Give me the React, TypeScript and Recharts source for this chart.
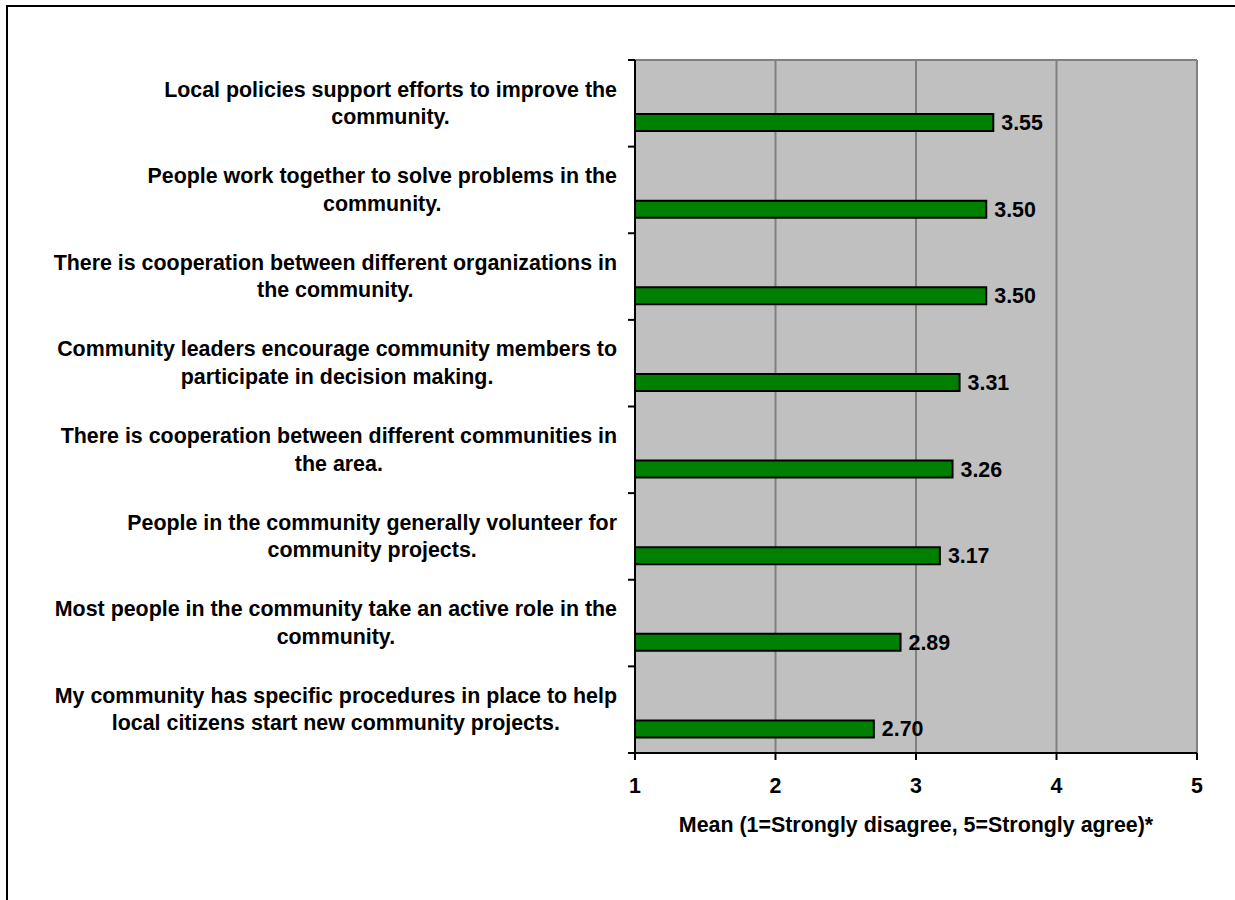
import React from "react";
import {
  BarChart,
  Bar,
  XAxis,
  YAxis,
  CartesianGrid,
  LabelList,
} from "recharts";

const categories: string[] = [
  "Local policies support efforts to improve the\ncommunity.",
  "People work together to solve problems in the\ncommunity.",
  "There is cooperation between different organizations in\nthe community.",
  "Community leaders encourage community members to\nparticipate in decision making.",
  "There is cooperation between different communities in\nthe area.",
  "People in the community generally volunteer for\ncommunity projects.",
  "Most people in the community take an active role in the\ncommunity.",
  "My community has specific procedures in place to help\nlocal citizens start new community projects.",
];
const means: number[] = [3.55, 3.5, 3.5, 3.31, 3.26, 3.17, 2.89, 2.7];
const xTicks: number[] = [1, 2, 3, 4, 5];
const xTitle = "Mean (1=Strongly disagree, 5=Strongly agree)*";

const data = categories.map((c, i) => ({ label: c, mean: means[i] }));

const FONT_FAMILY = "'Liberation Sans', Arial, sans-serif";
const FONT_SIZE = 21.4;

let canvasCtx: CanvasRenderingContext2D | null = null;
function measure(text: string): number {
  if (!canvasCtx) {
    const c = document.createElement("canvas");
    canvasCtx = c.getContext("2d");
  }
  if (!canvasCtx) return text.length * FONT_SIZE * 0.55;
  canvasCtx.font = `bold ${FONT_SIZE}px 'Liberation Sans'`;
  return canvasCtx.measureText(text).width;
}

const YTick = (props: any) => {
  const { x, y, payload, index, visibleTicksCount } = props;
  const lines: string[] = String(payload.value).split("\n");
  const maxW = Math.max(...lines.map(measure));
  const right = x - 18;
  const cx = right - maxW / 2;
  const lh = 27.5;
  const off = payload.offset ?? 0;
  const n = visibleTicksCount ?? categories.length;
  const startY = y - ((lines.length - 1) * lh) / 2 + 7;
  return (
    <g>
      <line x1={x - 7} x2={x} y1={y - off} y2={y - off} stroke="#000" strokeWidth={2} />
      {index === n - 1 && (
        <line x1={x - 7} x2={x} y1={y + off} y2={y + off} stroke="#000" strokeWidth={2} />
      )}
      {lines.map((ln, i) => (
        <text
          key={i}
          x={cx}
          y={startY + i * lh}
          textAnchor="middle"
          fontFamily={FONT_FAMILY}
          fontWeight="bold"
          fontSize={FONT_SIZE}
          fill="#000"
        >
          {ln}
        </text>
      ))}
    </g>
  );
};

const Frame = (props: any) => {
  const { width, height } = props;
  return (
    <path
      d={`M7 ${height + 10} L7 6 L${width + 10} 6`}
      fill="none"
      stroke="#000"
      strokeWidth={2}
    />
  );
};

export default function App() {
  return (
    <div
      style={{
        position: "fixed",
        left: 0,
        top: 0,
        width: 1235,
        height: 900,
        overflow: "hidden",
        background: "#fff",
      }}
    >
      <svg
        width={1235}
        height={900}
        style={{ position: "absolute", left: 0, top: 0 }}
      >
        <Frame width={1235} height={900} />
      </svg>
      <div style={{ position: "absolute", left: 0, top: 0 }}>
        <BarChart
          width={1235}
          height={900}
          data={data}
          layout="vertical"
          margin={{ top: 60, right: 38, bottom: 57, left: 0 }}
          barSize={17}
          barGap={22}
        >
          <CartesianGrid
            fill="#C0C0C0"
            stroke="#808080"
            strokeWidth={2}
            horizontal={true}
            vertical={true}
            horizontalCoordinatesGenerator={({ offset }: any) => [offset.top]}
          />
          <XAxis
            type="number"
            domain={[1, 5]}
            ticks={xTicks}
            interval={0}
            height={90}
            axisLine={{ stroke: "#000", strokeWidth: 2 }}
            tickLine={{ stroke: "#000", strokeWidth: 2 }}
            tickSize={7}
            tickMargin={18}
            tick={{
              fill: "#000",
              fontFamily: FONT_FAMILY,
              fontWeight: "bold",
              fontSize: FONT_SIZE,
            }}
            label={{
              value: xTitle,
              position: "insideBottom",
              offset: 11,
              fill: "#000",
              fontFamily: FONT_FAMILY,
              fontWeight: "bold",
              fontSize: FONT_SIZE,
            }}
          />
          <YAxis
            type="category"
            dataKey="label"
            width={635}
            interval={0}
            axisLine={{ stroke: "#000", strokeWidth: 2 }}
            tickLine={false}
            tickSize={0}
            tickMargin={0}
            tick={<YTick />}
          />
          <Bar dataKey="none" fill="none" isAnimationActive={false} />
          <Bar
            dataKey="mean"
            fill="#008000"
            stroke="#000"
            strokeWidth={2}
            isAnimationActive={false}
          >
            <LabelList
              dataKey="mean"
              position="right"
              offset={8}
              formatter={(v: any) => Number(v).toFixed(2)}
              fill="#000"
              fontFamily={FONT_FAMILY}
              fontWeight="bold"
              fontSize={FONT_SIZE}
            />
          </Bar>
        </BarChart>
      </div>
    </div>
  );
}
